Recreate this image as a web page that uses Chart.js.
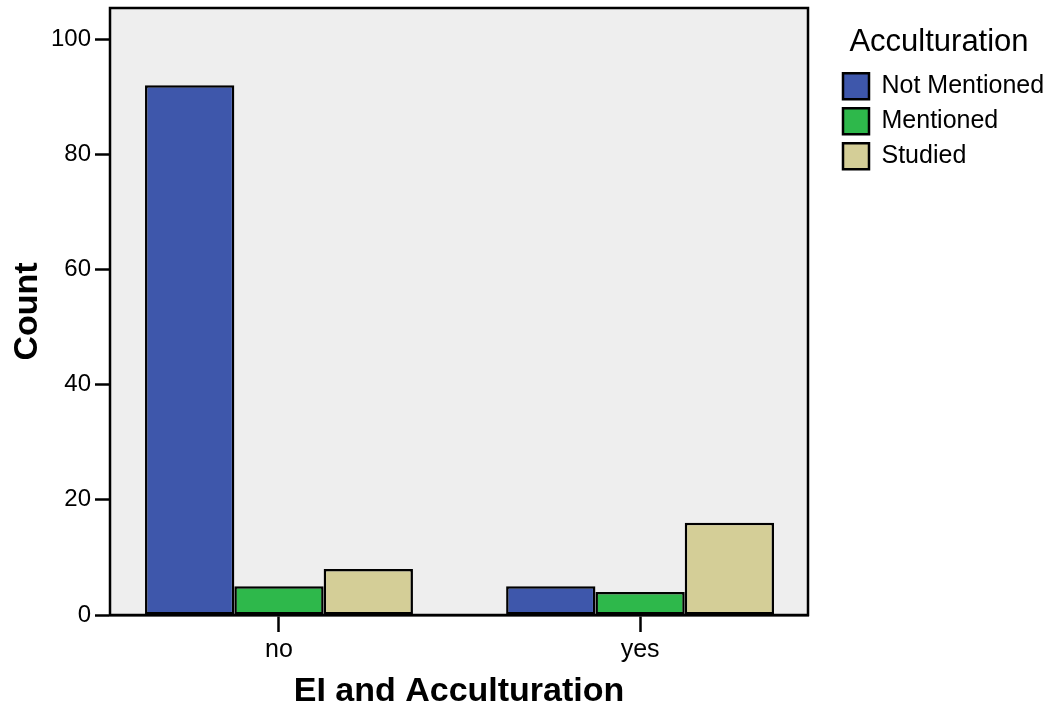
<!DOCTYPE html>
<html>
<head>
<meta charset="utf-8">
<script src="https://cdn.jsdelivr.net/npm/chart.js@4/dist/chart.umd.min.js"></script>
<style>
  html, body { margin: 0; padding: 0; background: #fff; }
  #wrap { width: 1049px; height: 711px; }
</style>
</head>
<body>
<div id="wrap"><canvas id="countChart" width="1049" height="711"></canvas></div>
<script>
const categories = ['no', 'yes'];
const seriesNames = ['Not Mentioned', 'Mentioned', 'Studied'];
const notMentioned = [92, 5];
const mentioned = [5, 4];
const studied = [8, 16];
const yTicks = [0, 20, 40, 60, 80, 100];

const colors = ['#3E57AB', '#2EB84B', '#D4CE97'];
const FONT = "'Liberation Sans', Arial, sans-serif";

const toPoints = vals => vals.map((v, i) => ({ x: i, y: v }));

// grey plot background + frame around the plot
const plotFrame = {
    id: 'plotFrame',
    beforeDatasetsDraw(chart) {
        const { ctx, chartArea: a } = chart;
        ctx.save();
        ctx.fillStyle = '#EEEEEE';
        ctx.fillRect(a.left, a.top, a.right - a.left, a.bottom - a.top);
        ctx.restore();
    },
    afterDatasetsDraw(chart) {
        const { ctx, chartArea: a } = chart;
        ctx.save();
        ctx.strokeStyle = '#000';
        ctx.lineWidth = 2.5;
        ctx.strokeRect(a.left, a.top, a.right - a.left, a.bottom - a.top);
        ctx.restore();
    }
};

// legend reserves a wider column (gap to the plot), then its items are moved right
const legendGap = {
    id: 'legendGap',
    beforeLayout(chart) {
        const lg = chart.legend;
        if (lg && !lg._gapWrapped) {
            const fit = lg.fit;
            lg.fit = function () { fit.call(this); this.width = 241; };
            lg._gapWrapped = true;
        }
    },
    afterLayout(chart) {
        const lg = chart.legend;
        if (!lg) return;
        lg.left = 834;
        lg.width = 210;
        lg.right = lg.left + lg.width;
    }
};

const ctx = document.getElementById('countChart').getContext('2d');
new Chart(ctx, {
    type: 'bar',
    data: {
        datasets: [notMentioned, mentioned, studied].map((vals, i) => ({
            label: seriesNames[i],
            data: toPoints(vals),
            backgroundColor: colors[i],
            borderColor: '#000',
            borderWidth: 2.5,
            borderSkipped: false,
            barPercentage: 1,
            categoryPercentage: 0.742
        }))
    },
    options: {
        responsive: false,
        animation: false,
        layout: { padding: { top: 8, right: 0, left: 0, bottom: 0 } },
        plugins: {
            tooltip: { enabled: false },
            legend: {
                position: 'right',
                align: 'start',
                title: {
                    display: true,
                    text: 'Acculturation',
                    color: '#000',
                    font: { family: FONT, size: 31 },
                    padding: { top: 19, bottom: 0 }
                },
                labels: {
                    color: '#000',
                    boxWidth: 26,
                    boxHeight: 26,
                    padding: 9,
                    font: { family: FONT, size: 25 },
                    generateLabels(chart) {
                        return chart.data.datasets.map((d, i) => ({
                            text: d.label,
                            fillStyle: d.backgroundColor,
                            strokeStyle: '#000',
                            lineWidth: 2.5,
                            fontColor: '#000',
                            datasetIndex: i
                        }));
                    }
                }
            }
        },
        scales: {
            x: {
                type: 'linear',
                offset: false,
                min: -0.468,
                max: 1.465,
                afterBuildTicks(axis) {
                    axis.ticks = categories.map((c, i) => ({ value: i }));
                },
                afterFit(scale) {
                    scale.height = 96;
                    scale.paddingLeft = 0;
                    scale.paddingRight = 0;
                },
                ticks: {
                    color: '#000',
                    padding: 3,
                    font: { family: FONT, size: 25 },
                    callback: v => categories[v]
                },
                grid: {
                    offset: false,
                    drawOnChartArea: false,
                    tickLength: 17,
                    tickWidth: 2.5,
                    tickColor: '#000'
                },
                border: { color: '#000', width: 2.5 },
                title: {
                    display: true,
                    text: 'EI and Acculturation',
                    color: '#000',
                    font: { family: FONT, size: 34, weight: 'bold', lineHeight: 1 },
                    padding: { top: 2, bottom: 2 }
                }
            },
            y: {
                min: 0,
                max: 105.4,
                afterBuildTicks(axis) {
                    axis.ticks = yTicks.map(v => ({ value: v }));
                },
                afterFit(scale) {
                    scale.width = 110;
                    scale.paddingTop = 0;
                    scale.paddingBottom = 0;
                },
                ticks: {
                    color: '#000',
                    padding: 4,
                    font: { family: FONT, size: 24 }
                },
                grid: {
                    drawOnChartArea: false,
                    tickLength: 15,
                    tickWidth: 2.5,
                    tickColor: '#000'
                },
                border: { color: '#000', width: 2.5 },
                title: {
                    display: true,
                    text: 'Count',
                    color: '#000',
                    font: { family: FONT, size: 34, weight: 'bold', lineHeight: 1 },
                    padding: { top: 11, bottom: 0 }
                }
            }
        }
    },
    plugins: [plotFrame, legendGap]
});
</script>
</body>
</html>
